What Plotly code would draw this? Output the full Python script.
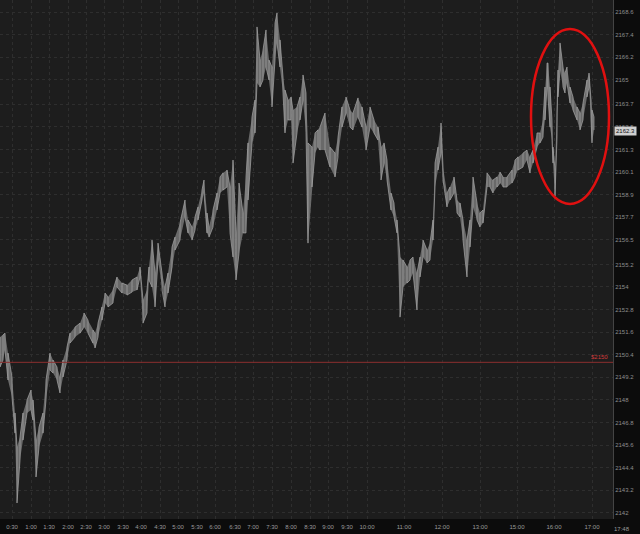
import plotly.graph_objects as go

# Tick chart: bar number along x, high/low of each sampled bar
bar_num = [0, 3, 5, 8, 12, 15, 17, 20, 23, 27, 31, 33, 36, 39, 43, 46, 50, 53, 57, 60,
           63, 67, 70, 75, 80, 84, 88, 93, 95, 98, 102, 105, 108, 113, 117, 122, 127, 132, 137, 140,
           143, 147, 149, 152, 155, 158, 162, 165, 168, 172, 175, 180, 185, 188, 192, 195, 198, 202, 204, 207,
           209, 213, 217, 220, 223, 227, 230, 233, 236, 239, 243, 246, 248, 252, 255, 257, 260, 263, 266, 269,
           272, 275, 277, 280, 283, 285, 288, 291, 293, 297, 300, 303, 306, 308, 312, 315, 318, 320, 325, 330,
           335, 338, 342, 346, 350, 353, 358, 362, 366, 370, 374, 378, 381, 384, 387, 391, 394, 397, 400, 403,
           407, 410, 413, 417, 420, 423, 427, 430, 433, 435, 438, 441, 443, 447, 450, 454, 457, 460, 463, 467,
           470, 473, 477, 480, 483, 487, 490, 493, 497, 500, 503, 507, 512, 515, 518, 523, 527, 530, 533, 537,
           540, 543, 545, 547, 548, 550, 552, 553, 555, 557, 558, 560, 563, 565, 567, 570, 573, 577, 580, 583,
           587, 589, 591, 592, 594]

high = [2151.34, 2151.45, 2151.55, 2150.49, 2149.22, 2147.31, 2145.50, 2146.03, 2147.31, 2148.00,
        2148.53, 2148.00, 2145.87, 2146.56, 2147.31, 2149.06, 2150.49, 2150.12, 2149.75, 2149.22,
        2150.12, 2150.81, 2151.55, 2151.87, 2152.08, 2152.62, 2152.24, 2151.71, 2151.55, 2152.08,
        2152.94, 2153.68, 2153.47, 2153.84, 2154.53, 2154.21, 2154.10, 2154.37, 2154.53, 2155.06,
        2153.31, 2153.84, 2155.06, 2156.49, 2154.74, 2156.33, 2154.74, 2154.00, 2154.74, 2156.12,
        2156.65, 2157.40, 2158.62, 2157.56, 2157.18, 2157.72, 2158.25, 2159.15, 2159.68, 2157.93,
        2157.18, 2158.09, 2158.99, 2159.84, 2160.05, 2160.21, 2159.31, 2160.74, 2156.87, 2159.52,
        2157.93, 2159.84, 2161.65, 2163.03, 2163.93, 2167.81, 2166.05, 2166.58, 2167.65, 2166.05,
        2165.68, 2168.02, 2168.55, 2167.12, 2165.15, 2164.46, 2163.93, 2164.09, 2163.40, 2163.56,
        2164.09, 2165.26, 2164.30, 2161.65, 2161.43, 2162.18, 2162.34, 2162.49, 2163.24, 2161.43,
        2161.11, 2161.96, 2163.56, 2164.09, 2163.40, 2163.24, 2164.04, 2163.56, 2162.49, 2163.56,
        2162.87, 2162.49, 2161.43, 2161.65, 2160.74, 2158.99, 2158.46, 2157.56, 2155.59, 2155.43,
        2155.06, 2155.43, 2155.59, 2154.74, 2155.59, 2156.49, 2155.96, 2156.33, 2157.56, 2160.58,
        2161.43, 2162.71, 2160.37, 2158.99, 2159.31, 2159.84, 2158.62, 2158.46, 2157.56, 2156.49,
        2157.56, 2159.84, 2158.46, 2157.93, 2158.09, 2160.05, 2159.84, 2159.68, 2159.84, 2160.10,
        2159.84, 2159.84, 2160.21, 2160.74, 2160.90, 2161.11, 2161.27, 2160.90, 2161.27, 2162.18,
        2162.18, 2162.87, 2164.62, 2165.89, 2165.89, 2164.62, 2162.87, 2161.43, 2160.21, 2163.24,
        2165.52, 2166.96, 2165.68, 2165.36, 2165.68, 2164.62, 2164.09, 2163.56, 2163.24, 2163.77,
        2164.99, 2165.36, 2163.93, 2163.40, 2163.03]

low = [2149.75, 2150.12, 2150.65, 2149.06, 2148.16, 2146.24, 2142.53, 2144.81, 2145.87, 2147.31,
       2147.47, 2146.93, 2143.91, 2145.50, 2146.24, 2148.00, 2149.59, 2149.43, 2149.06, 2148.37,
       2149.22, 2150.12, 2151.02, 2151.34, 2151.55, 2151.87, 2151.55, 2151.02, 2150.76, 2151.34,
       2152.24, 2153.15, 2152.94, 2153.15, 2154.00, 2153.68, 2153.57, 2153.73, 2153.84, 2154.53,
       2152.08, 2152.62, 2154.37, 2154.00, 2152.94, 2155.43, 2153.84, 2152.94, 2153.68, 2155.06,
       2155.96, 2156.49, 2157.72, 2156.87, 2156.49, 2157.02, 2157.56, 2158.62, 2158.99, 2156.87,
       2156.65, 2157.18, 2158.09, 2158.99, 2159.15, 2159.31, 2156.87, 2155.59, 2154.37, 2155.80,
       2156.87, 2156.87, 2158.62, 2161.65, 2162.18, 2164.83, 2164.62, 2164.99, 2165.68, 2164.99,
       2163.56, 2166.05, 2166.96, 2165.68, 2164.30, 2162.18, 2162.87, 2162.87, 2160.58, 2162.18,
       2162.87, 2163.93, 2162.18, 2156.33, 2159.31, 2161.11, 2161.43, 2161.27, 2161.27, 2160.37,
       2159.84, 2160.90, 2162.49, 2163.24, 2162.49, 2162.34, 2163.03, 2162.49, 2161.27, 2162.49,
       2162.18, 2161.80, 2159.68, 2160.58, 2159.68, 2158.09, 2157.72, 2156.87, 2152.40, 2154.00,
       2154.21, 2154.37, 2154.74, 2152.78, 2154.53, 2155.59, 2155.27, 2155.43, 2156.49, 2159.31,
       2160.21, 2161.11, 2159.68, 2158.25, 2158.62, 2158.99, 2157.93, 2157.72, 2156.49, 2154.53,
       2156.12, 2158.25, 2157.56, 2157.18, 2157.40, 2159.31, 2159.31, 2158.99, 2159.31, 2159.52,
       2159.31, 2159.31, 2159.52, 2159.84, 2160.21, 2160.37, 2160.74, 2160.05, 2160.58, 2161.43,
       2161.65, 2161.96, 2162.87, 2164.62, 2164.09, 2162.49, 2161.80, 2160.58, 2158.83, 2161.96,
       2164.09, 2165.52, 2164.62, 2164.30, 2164.83, 2163.77, 2163.40, 2162.87, 2162.34, 2162.87,
       2164.09, 2164.62, 2162.87, 2161.65, 2162.34]

# Time labels on the bottom axis (bar number where each label sits)
time_pos = [12, 31, 49, 68, 86, 104, 123, 141, 160, 178, 197, 215, 235, 253, 272, 291, 310, 328,
            347, 367, 404, 442, 480, 517, 554, 592]
time_labels = ['0:30', '1:00', '1:30', '2:00', '2:30', '3:00', '3:30', '4:00', '4:30', '5:00',
               '5:30', '6:00', '6:30', '7:00', '7:30', '8:00', '8:30', '9:00', '9:30', '10:00',
               '11:00', '12:00', '13:00', '15:00', '16:00', '17:00']
last_time = '17:48'

# Price labels on the right axis
price_ticks = [2168.6, 2167.4, 2166.2, 2165.0, 2163.7, 2162.5, 2161.3, 2160.1, 2158.9, 2157.7,
               2156.5, 2155.2, 2154.0, 2152.8, 2151.6, 2150.4, 2149.2, 2148.0, 2146.8, 2145.6,
               2144.4, 2143.2, 2142.0]
price_labels = ['2168.6', '2167.4', '2166.2', '2165', '2163.7', '2162.5', '2161.3', '2160.1',
                '2158.9', '2157.7', '2156.5', '2155.2', '2154', '2152.8', '2151.6', '2150.4',
                '2149.2', '2148', '2146.8', '2145.6', '2144.4', '2143.2', '2142']

last_price = 2162.3
alert_level = 2150.0

# High/low range filled in (no edge lines)
high_trace = go.Scatter(x=bar_num, y=high, mode='lines',
                        line=dict(color='rgba(0,0,0,0)', width=0),
                        hoverinfo='skip', showlegend=False)
low_trace = go.Scatter(x=bar_num, y=low, mode='lines', fill='tonexty',
                       fillcolor='rgba(125,125,125,0.8)',
                       line=dict(color='rgba(0,0,0,0)', width=0),
                       hoverinfo='skip', showlegend=False)

# Zigzag through each bar's high/low for the noisy bar texture
zx = []
zy = []
for i in range(len(bar_num)):
    zx += [bar_num[i], bar_num[i]]
    if i % 2 == 0:
        zy += [high[i], low[i]]
    else:
        zy += [low[i], high[i]]

bars_trace = go.Scatter(x=zx, y=zy, mode='lines',
                        line=dict(color='#a8a8a8', width=0.7),
                        hoverinfo='skip', showlegend=False)

fig = go.Figure(data=[high_trace, low_trace, bars_trace])

grid = dict(showgrid=True, gridcolor='#2e2e2e', griddash='dot', gridwidth=1, zeroline=False)

fig.update_layout(
    width=640, height=534,
    margin=dict(l=0, r=27, t=0, b=15),
    paper_bgcolor='#0c0c0c',
    plot_bgcolor='#1d1d1d',
    font=dict(family='Liberation Sans, Arial, sans-serif', color='#8c8c8c', size=6),
    xaxis=dict(range=[0, 613], tickmode='array', tickvals=time_pos, ticktext=time_labels,
               ticks='', ticklabelstandoff=3, tickfont=dict(size=6, color='#9a9a9a'),
               automargin=False, fixedrange=True, **grid),
    yaxis=dict(range=[2141.68, 2169.24], side='right', tickmode='array',
               tickvals=price_ticks, ticktext=price_labels, ticks='',
               tickfont=dict(size=6, color='#8c8c8c'), automargin=False,
               showline=True, linecolor='#444444', linewidth=1, fixedrange=True, **grid),
)

# Alert line at $2150
fig.add_shape(type='line', xref='paper', x0=0, x1=1, yref='y', y0=alert_level, y1=alert_level,
              line=dict(color='#8c2f2f', width=1))
fig.add_annotation(xref='paper', x=0.995, yref='y', y=alert_level, text='$2150',
                   showarrow=False, xanchor='right', yanchor='bottom',
                   font=dict(size=6, color='#d23a3a'))

# Highlight around the late session move
fig.add_shape(type='circle', xref='x', yref='y', x0=531, x1=609, y0=2158.41, y1=2167.70,
              line=dict(color='#e01010', width=2.5))

# Current price box on the axis (covers the nearby tick label, as on the platform)
fig.add_annotation(xref='paper', x=1.0, yref='y', y=last_price, text=str(last_price),
                   showarrow=False, xanchor='left', xshift=1,
                   bgcolor='#d0d0d0', borderpad=1,
                   font=dict(size=6, color='#111111'))

# Last time label sits under the price axis
fig.add_annotation(xref='paper', x=1.0, yref='paper', y=0, text=last_time,
                   showarrow=False, xanchor='left', yanchor='top', xshift=-1, yshift=-5,
                   font=dict(size=6, color='#9a9a9a'))

# Drop the default page margin so the chart fills the window, no toolbar
fig.write_html("out.html", config={'displayModeBar': False},
               post_script="document.body.style.margin='0';")
